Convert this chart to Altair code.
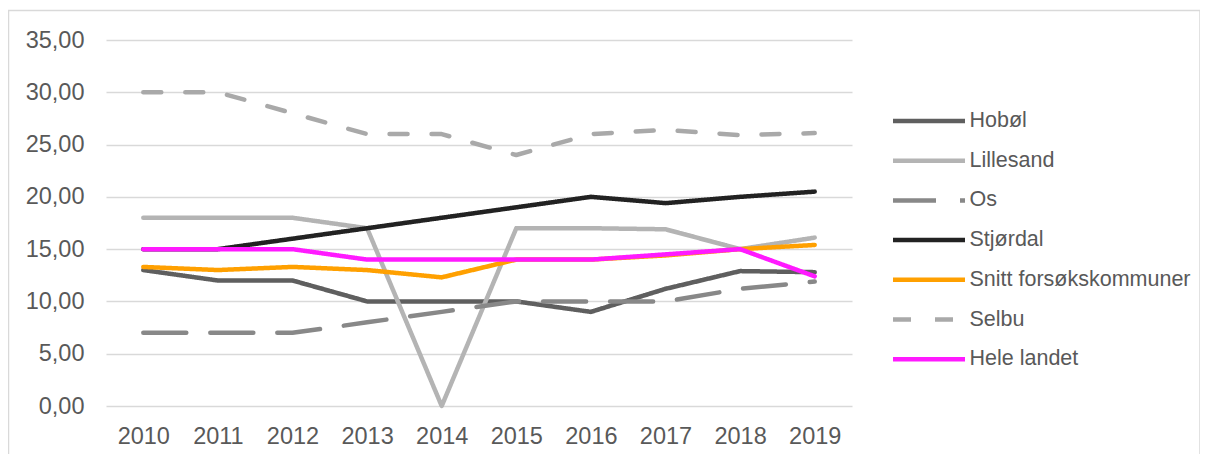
import altair as alt
import pandas as pd

years = [2010, 2011, 2012, 2013, 2014, 2015, 2016, 2017, 2018, 2019]
series = ["Hobøl", "Lillesand", "Os", "Stjørdal", "Snitt forsøkskommuner", "Selbu", "Hele landet"]

hobol = [13.0, 12.0, 12.0, 10.0, 10.0, 10.0, 9.0, 11.2, 12.9, 12.8]
lillesand = [18.0, 18.0, 18.0, 17.0, 0.0, 17.0, 17.0, 16.9, 15.0, 16.1]
os_ = [7.0, 7.0, 7.0, 8.0, 9.0, 10.0, 10.0, 10.0, 11.2, 11.9]
stjordal = [15.0, 15.0, 16.0, 17.0, 18.0, 19.0, 20.0, 19.4, 20.0, 20.5]
snitt = [13.3, 13.0, 13.3, 13.0, 12.3, 14.0, 14.0, 14.4, 15.0, 15.4]
selbu = [30.0, 30.0, 28.0, 26.0, 26.0, 24.0, 26.0, 26.4, 25.9, 26.1]
hele = [15.0, 15.0, 15.0, 14.0, 14.0, 14.0, 14.0, 14.5, 15.0, 12.4]

values = [hobol, lillesand, os_, stjordal, snitt, selbu, hele]
colors = ["#5f5f5f", "#b4b4b4", "#888888", "#222222", "#ffa000", "#a9a9a9", "#ff1aff"]
dashes = [[1, 0], [1, 0], [43, 24], [1, 0], [1, 0], [18, 24], [1, 0]]
y_ticks = [0, 5, 10, 15, 20, 25, 30, 35]

rows = []
for name, vals in zip(series, values):
    for yr, v in zip(years, vals):
        rows.append({"year": str(yr), "value": v, "series": name})
df = pd.DataFrame(rows)

FONT = "Liberation Sans"
TXT = "#595959"

lines = alt.Chart(df).mark_line(strokeWidth=4.5, strokeCap="round", strokeJoin="round").encode(
    x=alt.X("year:O", title=None, sort=[str(y) for y in years],
            axis=alt.Axis(labelAngle=0, domain=False, ticks=False, grid=False,
                          labelFontSize=23.5, labelColor=TXT, labelFont=FONT, labelPadding=18)),
    y=alt.Y("value:Q", title=None, scale=alt.Scale(domain=[0, 35], nice=False),
            axis=alt.Axis(values=y_ticks, domain=False, ticks=False, tickSize=0,
                          gridColor="#d9d9d9", gridWidth=1.3,
                          labelExpr="replace(format(datum.value, '.2f'), '.', ',')",
                          labelFontSize=23.5, labelColor=TXT, labelFont=FONT, labelPadding=22)),
    color=alt.Color("series:N", sort=series,
                    scale=alt.Scale(domain=series, range=colors),
                    legend=alt.Legend(title=None, orient="none", legendX=784.5, legendY=71,
                                      symbolType="stroke", symbolSize=5184, symbolStrokeWidth=4.5,
                                      clipHeight=20, rowPadding=17.7, padding=0, symbolOffset=0,
                                      labelOffset=2, labelFontSize=21.5, labelColor=TXT, labelFont=FONT,
                                      labelLimit=400)),
    strokeDash=alt.StrokeDash("series:N", sort=series,
                              scale=alt.Scale(domain=series, range=dashes), legend=None),
)

frame = alt.Chart(alt.Data(values=[{}])).mark_rect(
    fillOpacity=0, stroke="#d9d9d9", strokeWidth=1.5
).encode(
    x=alt.value(-97.5), x2=alt.value(1094), y=alt.value(-29.5), y2=alt.value(470)
)

chart = alt.layer(frame, lines).properties(
    width=746, height=366,
    autosize=alt.AutoSizeParams(type="none"),
    padding={"left": 98, "top": 32, "right": 348, "bottom": 48},
    background="white",
).configure_view(stroke=None)

chart.save("out.html", embed_options={"renderer": "svg", "actions": False})
